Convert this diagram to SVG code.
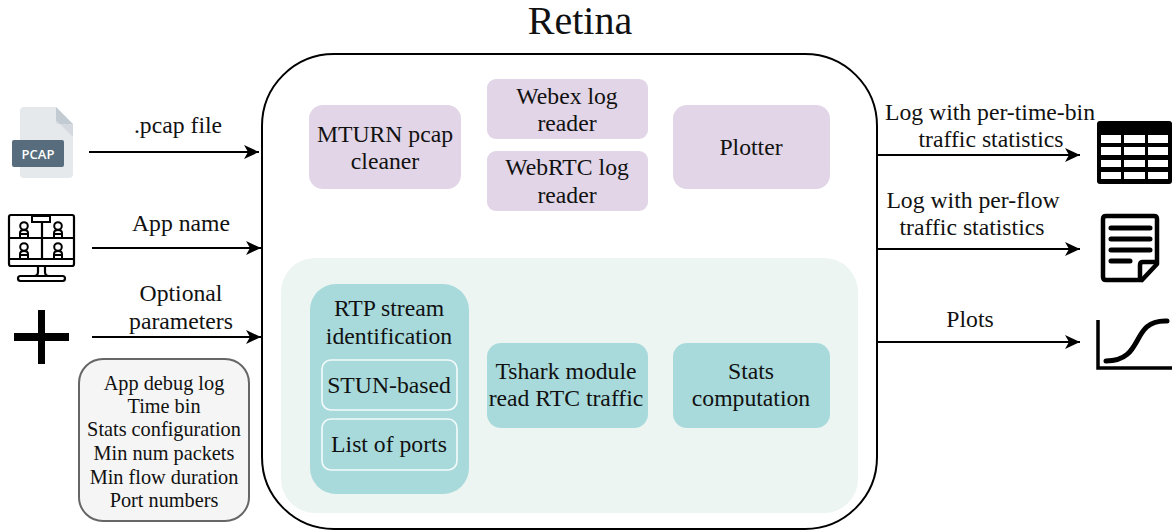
<svg xmlns="http://www.w3.org/2000/svg" width="1176" height="530" viewBox="0 0 1176 530">
<style>
text{font-family:"Liberation Serif","Times New Roman",serif;fill:#111;text-anchor:middle;font-size:23.7px}
.p{fill:#e1d5e7}
.t{fill:#a8dadc}
.in{fill:none;stroke:#f4fafa;stroke-width:1.6}
.c{stroke:#000;stroke-width:2;fill:none;marker-end:url(#a)}
.s{font-size:20.3px}
.w{fill:#fff}
</style>
<defs><marker id="a" markerUnits="userSpaceOnUse" markerWidth="16" markerHeight="14" refX="15" refY="7" orient="auto"><path d="M0 0L15 7L0 14L4 7Z" fill="#000"/></marker></defs>
<rect width="1176" height="530" fill="#fff"/>
<text x="580" y="34" style="font-size:40px">Retina</text>
<g id="retina"><rect x="262" y="54" width="615" height="475" rx="72" fill="#fff" stroke="#000" stroke-width="2"/></g>
<g id="rtc-panel"><rect x="281" y="258" width="577" height="255" rx="34" fill="#ecf5f1"/></g>
<g id="mturn"><rect class="p" x="309" y="105" width="152" height="84" rx="14"/><text x="385" y="142">MTURN pcap</text><text x="385" y="169">cleaner</text></g>
<g id="webex"><rect class="p" x="487" y="79" width="161" height="60" rx="9"/><text x="567" y="104">Webex log</text><text x="567" y="131">reader</text></g>
<g id="webrtc"><rect class="p" x="487" y="151" width="161" height="60" rx="9"/><text x="567" y="175">WebRTC log</text><text x="567" y="203">reader</text></g>
<g id="plotter"><rect class="p" x="673" y="105" width="157" height="84" rx="14"/><text x="751" y="155">Plotter</text></g>
<g id="rtp"><rect class="t" x="310" y="284" width="159" height="210" rx="26"/><text x="389" y="316">RTP stream</text><text x="389" y="344">identification</text></g>
<g id="stun"><rect class="in" x="322" y="360" width="135" height="50" rx="9"/><text x="389" y="393">STUN-based</text></g>
<g id="ports"><rect class="in" x="322" y="419" width="135" height="51" rx="9"/><text x="389" y="452">List of ports</text></g>
<g id="tshark"><rect class="t" x="487" y="343" width="161" height="85" rx="14"/><text x="566" y="379">Tshark module</text><text x="566" y="406">read RTC traffic</text></g>
<g id="stats"><rect class="t" x="673" y="343" width="157" height="85" rx="14"/><text x="751" y="379">Stats</text><text x="751" y="406">computation</text></g>
<g id="connectors">
<path class="c" d="M89 152H259"/><path class="c" d="M92 248H261"/><path class="c" d="M92 337H261"/>
<path class="c" d="M877 155H1080"/><path class="c" d="M877 249H1080"/><path class="c" d="M877 342H1080"/>
</g>
<g id="labels-in"><text x="178" y="133">.pcap file</text><text x="181" y="231">App name</text><text x="181" y="301">Optional</text><text x="181" y="329">parameters</text></g>
<g id="labels-out"><text x="990" y="120">Log with per-time-bin</text><text x="991" y="147">traffic statistics</text><text x="973" y="208">Log with per-flow</text><text x="972" y="235">traffic statistics</text><text x="970" y="327">Plots</text></g>
<g id="pcap-icon"><path d="M24 107H56L73 125V174Q73 178 69 178H24Q20 178 20 174V111Q20 107 24 107Z" fill="#e6e9ec"/><path d="M56 107L73 124H60Q56 124 56 120Z" fill="#c3cbd2"/><path d="M56 120Q56 124 60 124H73V137Z" fill="#d3d9de"/><rect x="12" y="140" width="52" height="27" rx="2" fill="#576d7e"/><text x="38" y="159" style="font-family:'Open Sans',sans-serif;font-size:13px;font-weight:600;fill:#fff">PCAP</text></g>
<g id="app-icon" fill="none" stroke="#000" stroke-width="2.2">
<rect x="9" y="215" width="65" height="51" rx="2"/><path d="M9 238H74M42 222V259M9 259H74"/><rect x="32" y="216" width="18" height="6" fill="#fff" stroke-width="2"/>
<path d="M38 267V272Q38 276 34 276M45 267V272Q45 276 49 276"/><rect x="18" y="276" width="47" height="5" rx="2.500"/>
<g id="people" stroke-width="2"><circle cx="24" cy="226" r="3.800"/><path d="M20 237V233Q20 230 24 230Q28 230 28 233V237M20 234H28"/><circle cx="58" cy="226" r="3.800"/><path d="M54 237V233Q54 230 58 230Q62 230 62 233V237M54 234H62"/><circle cx="24" cy="247" r="3.800"/><path d="M20 258V254Q20 251 24 251Q28 251 28 254V258M20 255H28"/><circle cx="58" cy="247" r="3.800"/><path d="M54 258V254Q54 251 58 251Q62 251 62 254V258M54 255H62"/></g>
</g>
<g id="plus-icon"><path d="M38 310H45V333H69V341H45V364H38V341H14V333H38Z" fill="#000"/></g>
<g id="options"><rect x="79" y="359" width="170" height="162" rx="24" fill="#f5f5f5" stroke="#666" stroke-width="2"/>
<text class="s" x="164" y="390">App debug log</text><text class="s" x="164" y="413">Time bin</text><text class="s" x="164" y="436">Stats configuration</text><text class="s" x="164" y="460">Min num packets</text><text class="s" x="164" y="484">Min flow duration</text><text class="s" x="164" y="507">Port numbers</text></g>
<g id="table-icon"><rect x="1097" y="121" width="75" height="63" rx="3" fill="#000"/><rect class="w" x="1101" y="135" width="20" height="8"/><rect class="w" x="1124" y="135" width="21" height="8"/><rect class="w" x="1148" y="135" width="20" height="8"/><rect class="w" x="1101" y="147" width="20" height="8"/><rect class="w" x="1124" y="147" width="21" height="8"/><rect class="w" x="1148" y="147" width="20" height="8"/><rect class="w" x="1101" y="160" width="20" height="7"/><rect class="w" x="1124" y="160" width="21" height="7"/><rect class="w" x="1148" y="160" width="20" height="7"/><rect class="w" x="1101" y="172" width="20" height="7"/><rect class="w" x="1124" y="172" width="21" height="7"/><rect class="w" x="1148" y="172" width="20" height="7"/></g>
<g id="doc-icon" fill="none" stroke="#000" stroke-linecap="round" stroke-linejoin="round"><path d="M1142 280H1106Q1103 280 1103 277V219Q1103 216 1106 216H1154Q1157 216 1157 219V264L1142 280" stroke-width="4.500"/><path d="M1111 228H1150M1111 239H1150M1111 250H1150M1111 261H1130" stroke-width="5"/><path d="M1140 279V265Q1140 262 1143 262H1156" stroke-width="4.500"/></g>
<g id="plot-icon" fill="none" stroke="#000"><path d="M1098 320V368H1172" stroke-width="3.500"/><path d="M1106 361C1145 361 1130 321 1165 321H1167" stroke-width="5" stroke-linecap="round"/></g>
</svg>
